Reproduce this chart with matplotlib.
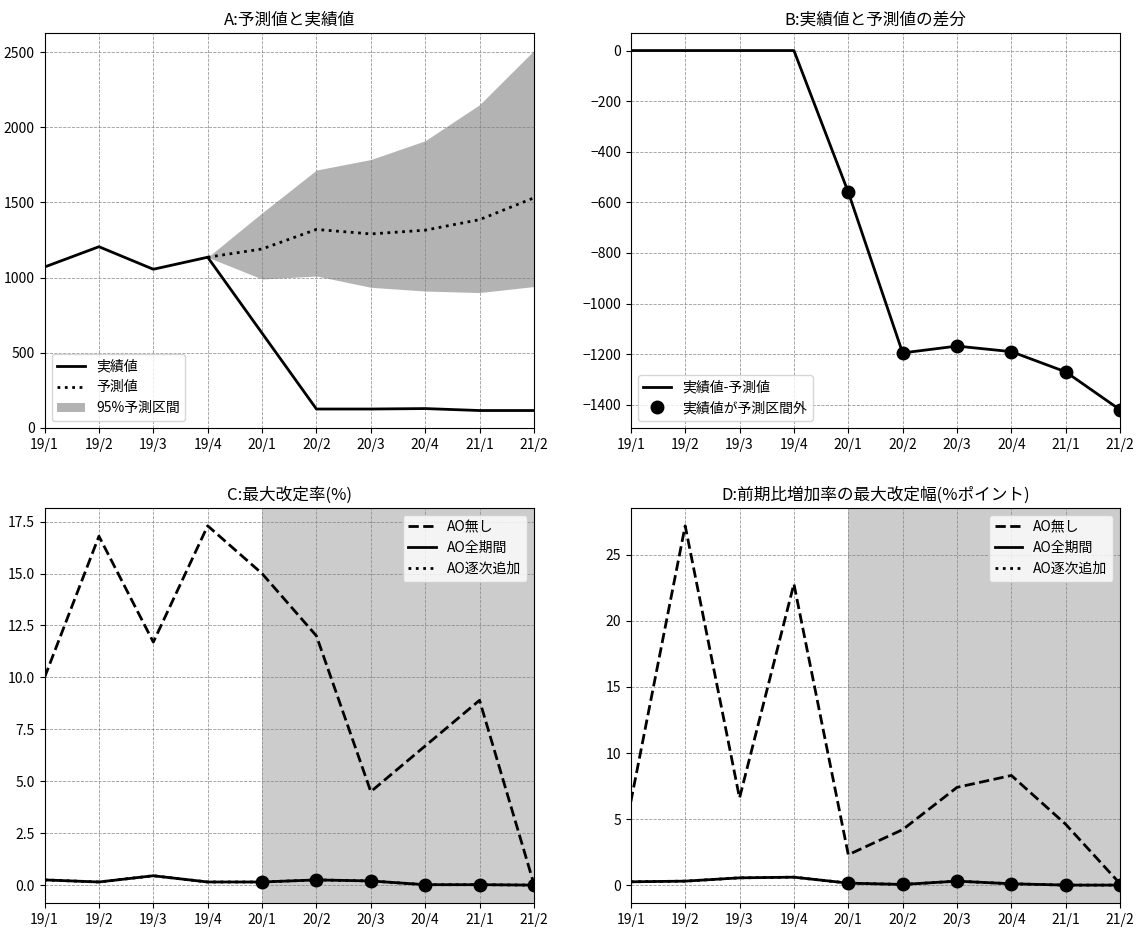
import matplotlib
matplotlib.use('Agg')
import matplotlib.pyplot as plt
import numpy as np

plt.rcParams['font.family'] = ['Noto Sans CJK JP', 'DejaVu Sans']

# data
quarters = ['19/1', '19/2', '19/3', '19/4', '20/1', '20/2', '20/3', '20/4', '21/1', '21/2']

actual = [1070, 1205, 1055, 1135, 630, 125, 125, 128, 115, 115]
forecast = [np.nan, np.nan, np.nan, 1135, 1190, 1320, 1290, 1315, 1385, 1530]
pi_lower = [np.nan, np.nan, np.nan, 1135, 990, 1010, 935, 910, 900, 940]
pi_upper = [np.nan, np.nan, np.nan, 1135, 1430, 1715, 1785, 1910, 2150, 2510]

diff = [0, 0, 0, 0, -560, -1195, -1168, -1190, -1270, -1420]
outside = [False, False, False, False, True, True, True, True, True, True]

c_no_ao = [10.0, 16.8, 11.7, 17.3, 15.0, 12.0, 4.5, 6.7, 8.9, 0.05]
c_ao_all = [0.25, 0.15, 0.45, 0.15, 0.15, 0.25, 0.2, 0.02, 0.02, 0.0]
c_ao_seq = [0.25, 0.15, 0.45, 0.15, 0.15, 0.25, 0.2, 0.02, 0.02, 0.0]

d_no_ao = [6.3, 27.2, 6.6, 22.8, 2.3, 4.2, 7.4, 8.3, 4.6, 0.1]
d_ao_all = [0.25, 0.3, 0.55, 0.6, 0.15, 0.05, 0.3, 0.1, 0.0, 0.0]
d_ao_seq = [0.25, 0.3, 0.55, 0.6, 0.15, 0.05, 0.3, 0.1, 0.0, 0.0]

shade_start = 4  # 20/1

x = np.arange(len(quarters))
LW = 2.0
MS = 9

fig, axes = plt.subplots(2, 2, figsize=(11.43, 9.31), dpi=100)
plt.subplots_adjust(left=0.039, right=0.980, top=0.965, bottom=0.030,
                    wspace=0.198, hspace=0.2025)


def style(ax, title):
    ax.set_title(title, fontsize=12)
    ax.set_xticks(x)
    ax.set_xticklabels(quarters)
    ax.set_xlim(x[0], x[-1])
    ax.grid(True, linestyle='--', color='gray', linewidth=0.6, alpha=0.8)
    ax.tick_params(labelsize=10)


# A
ax = axes[0, 0]
ax.plot(x, actual, color='black', lw=LW, label='実績値')
ax.plot(x, forecast, color='black', lw=LW, linestyle=':', label='予測値')
ax.fill_between(x, pi_lower, pi_upper, color='0.7', lw=0, label='95%予測区間')
ax.set_ylim(bottom=0)
style(ax, 'A:予測値と実績値')
ax.legend(loc='lower left', fontsize=10)

# B
ax = axes[0, 1]
ax.plot(x, diff, color='black', lw=LW, label='実績値-予測値')
xo = [xi for xi, o in zip(x, outside) if o]
yo = [d for d, o in zip(diff, outside) if o]
ax.plot(xo, yo, 'o', color='black', ms=MS, label='実績値が予測区間外')
style(ax, 'B:実績値と予測値の差分')
ax.legend(loc='lower left', fontsize=10)

# C, D
for ax, no_ao, ao_all, ao_seq, title in [
        (axes[1, 0], c_no_ao, c_ao_all, c_ao_seq, 'C:最大改定率(%)'),
        (axes[1, 1], d_no_ao, d_ao_all, d_ao_seq, 'D:前期比増加率の最大改定幅(%ポイント)')]:
    ax.axvspan(x[shade_start], x[-1], color='0.8', lw=0)
    ax.plot(x, no_ao, color='black', lw=LW, linestyle='--', label='AO無し')
    ax.plot(x, ao_all, color='black', lw=LW, label='AO全期間')
    ax.plot(x, ao_seq, color='black', lw=LW, linestyle=':', label='AO逐次追加')
    ax.plot(x[shade_start:], ao_all[shade_start:], 'o', color='black', ms=MS)
    style(ax, title)
    ax.legend(loc='upper right', fontsize=10)

fig.savefig('out.png')
